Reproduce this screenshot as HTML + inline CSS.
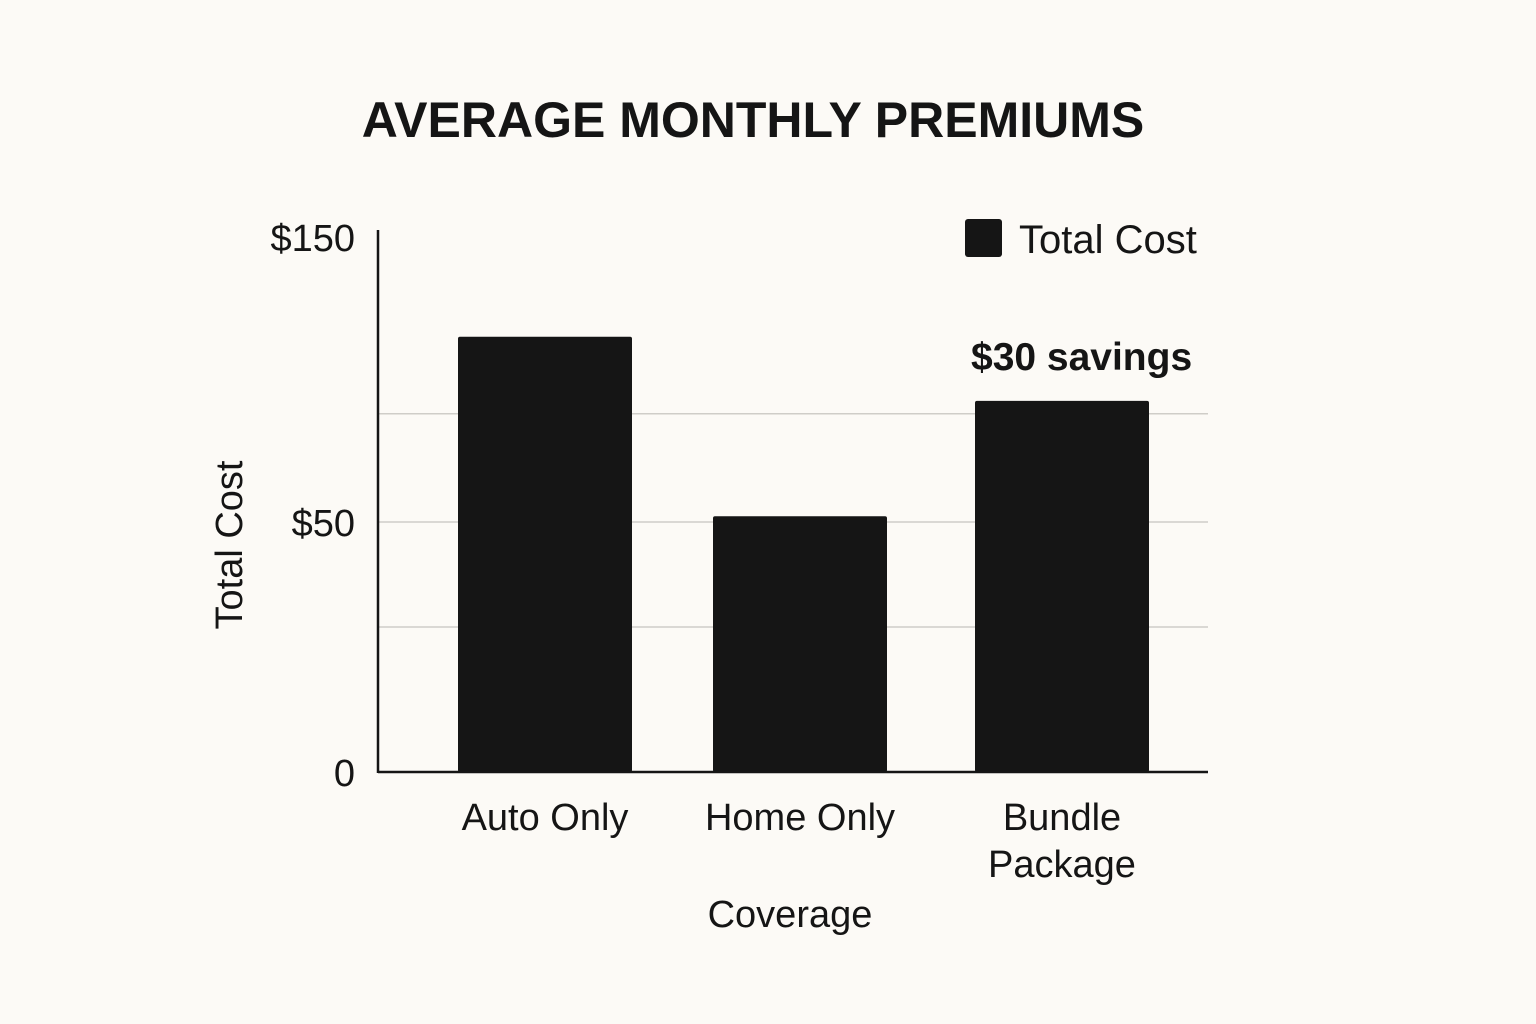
<!DOCTYPE html>
<html><head><meta charset="utf-8"><style>
html,body{margin:0;padding:0;background:#fcfaf6;}
svg{display:block;font-family:"Liberation Sans",sans-serif;}
</style></head><body>
<svg id="chart" width="1536" height="1024" viewBox="0 0 1536 1024">
<rect width="1536" height="1024" fill="#fcfaf6"/>
<text x="753" y="137" text-anchor="middle" font-size="50" font-weight="bold" fill="#151515">AVERAGE MONTHLY PREMIUMS</text>
<g id="grid"></g>
<g id="bars"></g>
<g id="axes"></g>
<text transform="translate(242,545) rotate(-90)" text-anchor="middle" font-size="38" fill="#151515">Total Cost</text>
<text x="790" y="927" text-anchor="middle" font-size="38" fill="#151515">Coverage</text>
<rect x="965" y="219" width="37" height="38" rx="3" fill="#151515"/>
<text x="1019" y="253" font-size="40" fill="#151515">Total Cost</text>
<text x="971" y="370" font-size="39" font-weight="bold" fill="#151515">$30 savings</text>
</svg>
<script>
const categories = [["Auto Only"], ["Home Only"], ["Bundle", "Package"]];
const values = [115, 52, 92.5];
const tickValues = [0, 50, 150];
const tickLabels = ["0", "$50", "$150"];
const gridValues = [29, 50, 88];

const NS = "http://www.w3.org/2000/svg";
const yDomain = [0, 50, 150], yRange = [772, 522, 237];
function y(v){
  for(let i=0;i<yDomain.length-1;i++){
    if(v<=yDomain[i+1]||i===yDomain.length-2){
      const t=(v-yDomain[i])/(yDomain[i+1]-yDomain[i]);
      return yRange[i]+t*(yRange[i+1]-yRange[i]);
    }
  }
}
const plotL = 378, plotR = 1208, bandW = (plotR-plotL)/3;
function xCenter(i){ return plotL + bandW*(i+0.5) + [-24,-9,32][i]*0; }
const centers = [545, 800, 1062];
function x(i){ return centers[i] !== undefined ? centers[i] : xCenter(i); }
const barW = 174;
function mk(tag, attrs){ const e=document.createElementNS(NS,tag); for(const k in attrs) e.setAttribute(k,attrs[k]); return e; }

const grid=document.getElementById('grid');
gridValues.forEach(v=>{
  const l=mk('line',{x1:plotL,x2:plotR,y1:y(v),y2:y(v),stroke:'#cfcdc8','stroke-width':1.5});
  
  
  grid.appendChild(l);
});
const bars=document.getElementById('bars');
values.forEach((v,i)=>{
  const r=mk('rect',{x:x(i)-barW/2,y:y(v),width:barW,height:y(0)-y(v),fill:'#151515',rx:2});
  
  
  bars.appendChild(r);
  categories[i].forEach((line,j)=>{
    const t=mk('text',{x:x(i),y:830+j*47,'text-anchor':'middle','font-size':38,fill:'#151515'});
    t.textContent=line;
    
    
    bars.appendChild(t);
  });
});
const axes=document.getElementById('axes');
const ya=mk('line',{x1:plotL,x2:plotL,y1:230,y2:y(0)+1,stroke:'#151515','stroke-width':2.5});


axes.appendChild(ya);
const xa=mk('line',{x1:plotL,x2:plotR,y1:y(0),y2:y(0),stroke:'#151515','stroke-width':2.5});


axes.appendChild(xa);
tickValues.forEach((v,i)=>{
  const t=mk('text',{x:355,y:y(v)+14,'text-anchor':'end','font-size':38,fill:'#151515'});
  t.textContent=tickLabels[i];
  
  
  axes.appendChild(t);
});
</script>
</body></html>
